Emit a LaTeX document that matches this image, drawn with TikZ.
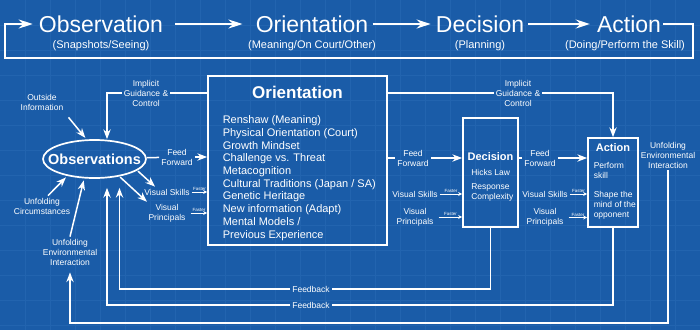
\documentclass[tikz,border=0pt]{standalone}
\usepackage{fontspec}
\setmainfont{Liberation Sans}
\usepackage{tikz}
\usetikzlibrary{arrows.meta,positioning,shapes.geometric,calc}
\definecolor{bpblue}{RGB}{26,92,168}
\definecolor{bpgrid}{RGB}{34,100,175}

\begin{document}
\begin{tikzpicture}[>=Stealth, x=1pt, y=-1pt, color=white, line width=1.5pt,
  every node/.style={font=\fontsize{8.5}{10}\selectfont, align=center, text=white, inner sep=1.5pt},
  stage/.style={font=\fontsize{23}{26}\selectfont},
  stagesub/.style={font=\fontsize{11}{13}\selectfont},
  block/.style={draw, line width=1.7pt, inner sep=0pt},
  blocktitle/.style={font=\bfseries\fontsize{11}{13}\selectfont},
  faster/.style={line width=1pt, -{Stealth[length=4pt,width=4pt]}},
  fastlbl/.style={font=\fontsize{4.5}{5}\selectfont, inner sep=0.6pt},
  bigarrow/.style={line width=1.8pt, -{Stealth[length=14pt,width=9pt]}}]
\useasboundingbox (0,0) rectangle (700,330);
\fill[bpblue] (0,0) rectangle (700,330);
\foreach \gx in {25,50,...,675} \draw[bpgrid, line width=0.5pt] (\gx,0) -- (\gx,330);
\foreach \gy in {25,50,...,325} \draw[bpgrid, line width=0.5pt] (0,\gy) -- (700,\gy);

\node[stage] (tobs) at (101,24) {Observation};
\node[stagesub] at (101,46) {(Snapshots/Seeing)};
\node[stage] (tori) at (312,24) {Orientation};
\node[stagesub] at (312,46) {(Meaning/On Court/Other)};
\node[stage] (tdec) at (480,24) {Decision};
\node[stagesub] at (480,46) {(Planning)};
\node[stage] (tact) at (629,24) {Action};
\node[stagesub] at (625,46) {(Doing/Perform the Skill)};
\draw[bigarrow, shorten <=10pt, shorten >=11pt] (tobs) -- (tori);
\draw[bigarrow, shorten <=2pt, shorten >=3pt] (tori) -- (tdec);
\draw[bigarrow, shorten <=2pt, shorten >=5pt] (tdec) -- (tact);
\coordinate (loopne) at (693,58);
\coordinate (loopsw) at (5,58);
\draw[bigarrow, shorten >=4pt] (tact.east) -| (loopne) -- (loopsw) |- (tobs.west);

\node[ellipse, draw, line width=1.7pt, minimum width=103pt, minimum height=38pt, inner sep=0pt] (obs) at (94.5,159) {};
\node[font=\bfseries\fontsize{14.5}{16}\selectfont] (obst) at (obs.center) {Observations};

\node[block, minimum width=179pt, minimum height=169pt] (orient) at (297.5,160.5) {};
\node[font=\bfseries\fontsize{17}{20}\selectfont, below=9pt of orient.north] (orit) {Orientation};
\node[anchor=north west, align=left, font=\fontsize{11}{12.7}\selectfont] (oril) at (220.5,113.5) {Renshaw (Meaning)\\Physical Orientation (Court)\\Growth Mindset\\Challenge vs. Threat\\Metacognition\\Cultural Traditions (Japan / SA)\\Genetic Heritage\\New information (Adapt)\\Mental Models /\\Previous Experience};

\node[block, minimum width=55pt, minimum height=109pt] (dec) at (490.5,172.5) {};
\node[blocktitle] (dect) at (490.5,157) {Decision};
\node[anchor=north west, align=left] (decl) at (469,167) {Hicks Law\\[4pt]Response\\Complexity};

\node[block, minimum width=50pt, minimum height=89pt] (act) at (613,182.5) {};
\node[blocktitle] (actt) at (613,148) {Action};
\node[anchor=north west, align=left] (actl) at (591.5,160) {Perform\\skill\\[9pt]Shape the\\mind of the\\opponent};

\node (oi) at (42,102) {Outside\\Information};
\node (igl) at (146,93) {Implicit\\Guidance \&\\Control};
\node (ffl) at (177,157) {Feed\\Forward};
\node (vsl) at (167,192) {Visual Skills};
\node (vpl) at (167,213) {Visual\\Principals};
\node (uc) at (42,206) {Unfolding\\Circumstances};
\node (uei) at (70,252) {Unfolding\\Environmental\\Interaction};
\node (igr) at (518,93) {Implicit\\Guidance \&\\Control};
\node (ffm) at (413,158) {Feed\\Forward};
\node (vsm) at (415,194) {Visual Skills};
\node (vpm) at (415,217) {Visual\\Principals};
\node (ffr) at (540,158) {Feed\\Forward};
\node (vsr) at (545,194) {Visual Skills};
\node (vpr) at (545,217.5) {Visual\\Principals};
\node (ueir) at (668,155) {Unfolding\\Environmental\\Interaction};
\node (fba) at (311,289) {Feedback};
\node (fbb) at (311,305) {Feedback};

\draw[->, shorten >=2pt] ([xshift=3pt,yshift=-5pt]oi.south east) -- (obs.112);
\draw (igl.east -| orient.west) -- (igl.east);
\draw[->] (igl.west) -| ([xshift=12.5pt]obs.north);
\draw (obs) -- (ffl);
\draw[->] (ffl.east) -- (ffl.east -| orient.west);
\draw[->, shorten <=1pt] (obs.-15) -- ([xshift=-12pt]vsl.north);
\draw[->, shorten <=1pt] (obs.-35) -- ([xshift=-20pt]vpl.north);
\draw[faster] (vsl.east) -- (vsl.east -| orient.west) node[fastlbl, midway, above] {Faster};
\draw[faster] ([xshift=3pt]vpl.east) -- (vpl.east -| orient.west) node[fastlbl, midway, above] {Faster};
\draw[->, shorten >=2pt] ([xshift=6pt]uc.north) -- (obs.-148);
\draw[->, shorten >=2pt] (uei.north) -- (obs.-118);

\draw (orient.east |- igr.west) -- (igr.west);
\draw[->] (igr.east) -| (act.north);
\draw (orient.east |- ffm) -- (ffm.west);
\draw[->] (ffm.east) -- (ffm.east -| dec.west);
\draw[faster] (vsm.east) -- (vsm.east -| dec.west) node[fastlbl, midway, above] {Faster};
\draw[faster] ([xshift=3pt]vpm.east) -- (vpm.east -| dec.west) node[fastlbl, midway, above] {Faster};
\draw (dec.east |- ffr) -- (ffr.west);
\draw[->] (ffr.east) -- (ffr.east -| act.west);
\draw[faster] (vsr.east) -- (vsr.east -| act.west) node[fastlbl, midway, above] {Faster};
\draw[faster] ([xshift=3pt]vpr.east) -- (vpr.east -| act.west) node[fastlbl, midway, above] {Faster};

\draw (dec.south) |- (fba.east);
\draw[->] (fba.west) -| ([xshift=25pt,yshift=-9pt]obs.south);
\draw (act.south) |- (fbb.east);
\draw[->] (fbb.west) -| ([xshift=12.5pt,yshift=-9pt]obs.south);
\coordinate (envfloor) at (400,323);
\draw[->, shorten >=5pt] (ueir.south) |- (envfloor) -| (uei.south);
\end{tikzpicture}
\end{document}
